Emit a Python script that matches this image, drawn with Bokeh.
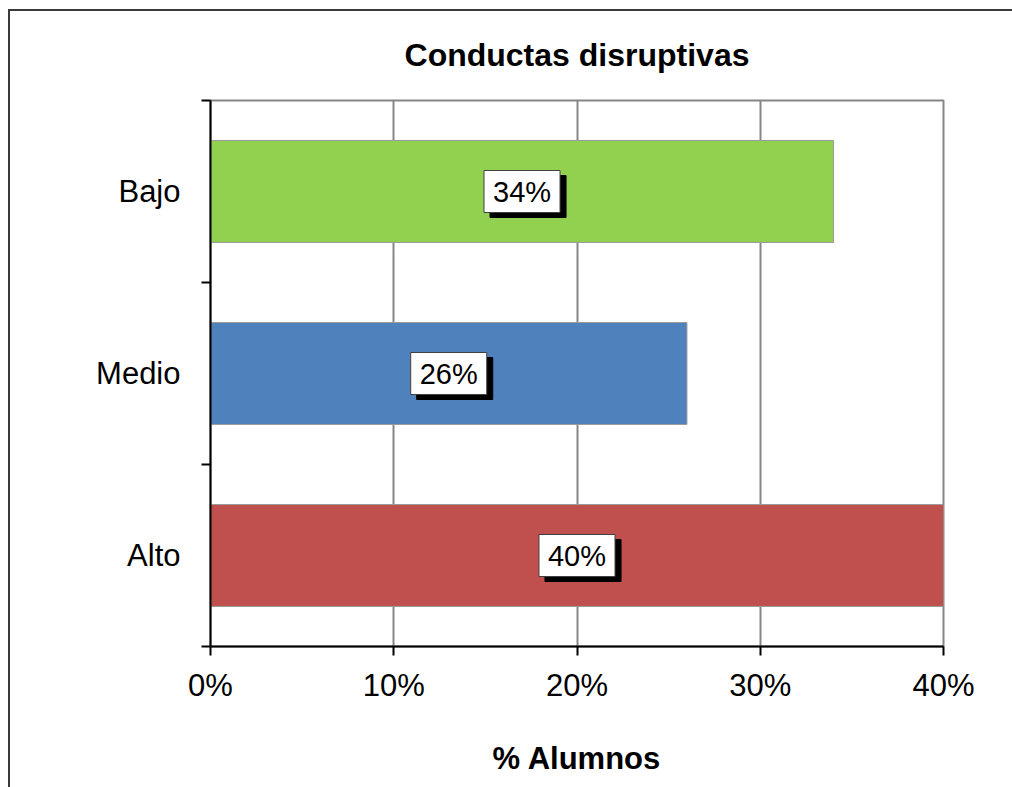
from bokeh.plotting import figure
from bokeh.models import (Range1d, LinearAxis, FixedTicker, NumeralTickFormatter, Label,
                          Title, Grid)
from bokeh.embed import file_html
from bokeh.resources import INLINE

# ---- data ----
categories = ["Alto", "Medio", "Bajo"]          # bottom to top
values = [0.40, 0.26, 0.34]
colors = ["#C0504D", "#4F81BD", "#92D050"]
x_ticks = [0.0, 0.1, 0.2, 0.3, 0.4]
title_text = "Conductas disruptivas"
x_title = "% Alumnos"

FONT = "Liberation Sans"

n = len(categories)
y_pos = [i + 0.5 for i in range(n)]
bounds = list(range(n + 1))

p = figure(width=1004, height=802, output_backend="svg", toolbar_location=None,
           y_range=Range1d(0, n),
           x_range=Range1d(x_ticks[0], x_ticks[-1]),
           x_axis_location=None, y_axis_location=None,
           min_border_left=202, min_border_right=69, min_border_top=91, min_border_bottom=165)
p.grid.visible = False

# outer chart frame: left and top edges (inset shadow on the host, transparent border area)
p.margin = (9, 0, 0, 8)
p.styles = {"box-shadow": "inset 2px 2px 0px 0px #3a3a3a"}

p.background_fill_color = "white"
p.border_fill_color = None
p.outline_line_color = "#868686"
p.outline_line_width = 2

# grid
g = Grid(dimension=0, ticker=FixedTicker(ticks=x_ticks), grid_line_color="#868686", grid_line_width=2)
p.add_layout(g, "center")

# bars
p.hbar(y=y_pos, right=values, left=0, height=0.56, fill_color=colors,
       line_color="#9a9a9a", line_width=1)

# bottom axis
xa = LinearAxis(ticker=FixedTicker(ticks=x_ticks), formatter=NumeralTickFormatter(format="0%"))
xa.axis_line_color = "black"
xa.axis_line_width = 2
xa.major_tick_line_color = "black"
xa.major_tick_line_width = 2
xa.major_tick_out = 9
xa.major_tick_in = 0
xa.minor_tick_line_color = None
xa.major_label_text_font = FONT
xa.major_label_text_font_size = "31px"
xa.major_label_text_color = "black"
xa.major_label_standoff = 12
p.add_layout(xa, "below")

# left axis: labels at category centres, ticks at category boundaries
ca = LinearAxis(ticker=FixedTicker(ticks=y_pos, minor_ticks=bounds),
                major_label_overrides={y: c for y, c in zip(y_pos, categories)})
ca.axis_line_color = "black"
ca.axis_line_width = 2
ca.major_tick_line_color = None
ca.major_tick_out = 0
ca.major_tick_in = 0
ca.minor_tick_line_color = "black"
ca.minor_tick_line_width = 2
ca.minor_tick_out = 9
ca.minor_tick_in = 0
ca.major_label_text_font = FONT
ca.major_label_text_font_size = "31px"
ca.major_label_text_color = "black"
ca.major_label_standoff = 21
p.add_layout(ca, "left")

# title
p.title = Title(text=title_text, align="center", vertical_align="top", text_font=FONT,
                text_font_size="32px", text_font_style="bold", text_color="black", standoff=51)

# x axis title
p.add_layout(Title(text=x_title, align="center", vertical_align="bottom", offset=-33,
                   text_font=FONT, text_font_size="31px", text_font_style="bold",
                   text_color="black", standoff=66), "below")

# value labels with shadow
for y, v in zip(y_pos, values):
    txt = f"{round(v * 100):.0f}%"
    shadow = Label(x=v / 2, y=y, text=txt, text_align="center", text_baseline="middle",
                   text_font=FONT, text_font_size="29px", text_color="black",
                   background_fill_color="black", border_line_color="black",
                   x_offset=6, y_offset=-5, padding=(9, 5))
    p.add_layout(shadow)
    lab = Label(x=v / 2, y=y, text=txt, text_align="center", text_baseline="middle",
                text_font=FONT, text_font_size="29px", text_color="black",
                background_fill_color="white", border_line_color="#404040", border_line_width=1,
                padding=(9, 5))
    p.add_layout(lab)

open("out.html", "w").write(file_html(p, INLINE))
